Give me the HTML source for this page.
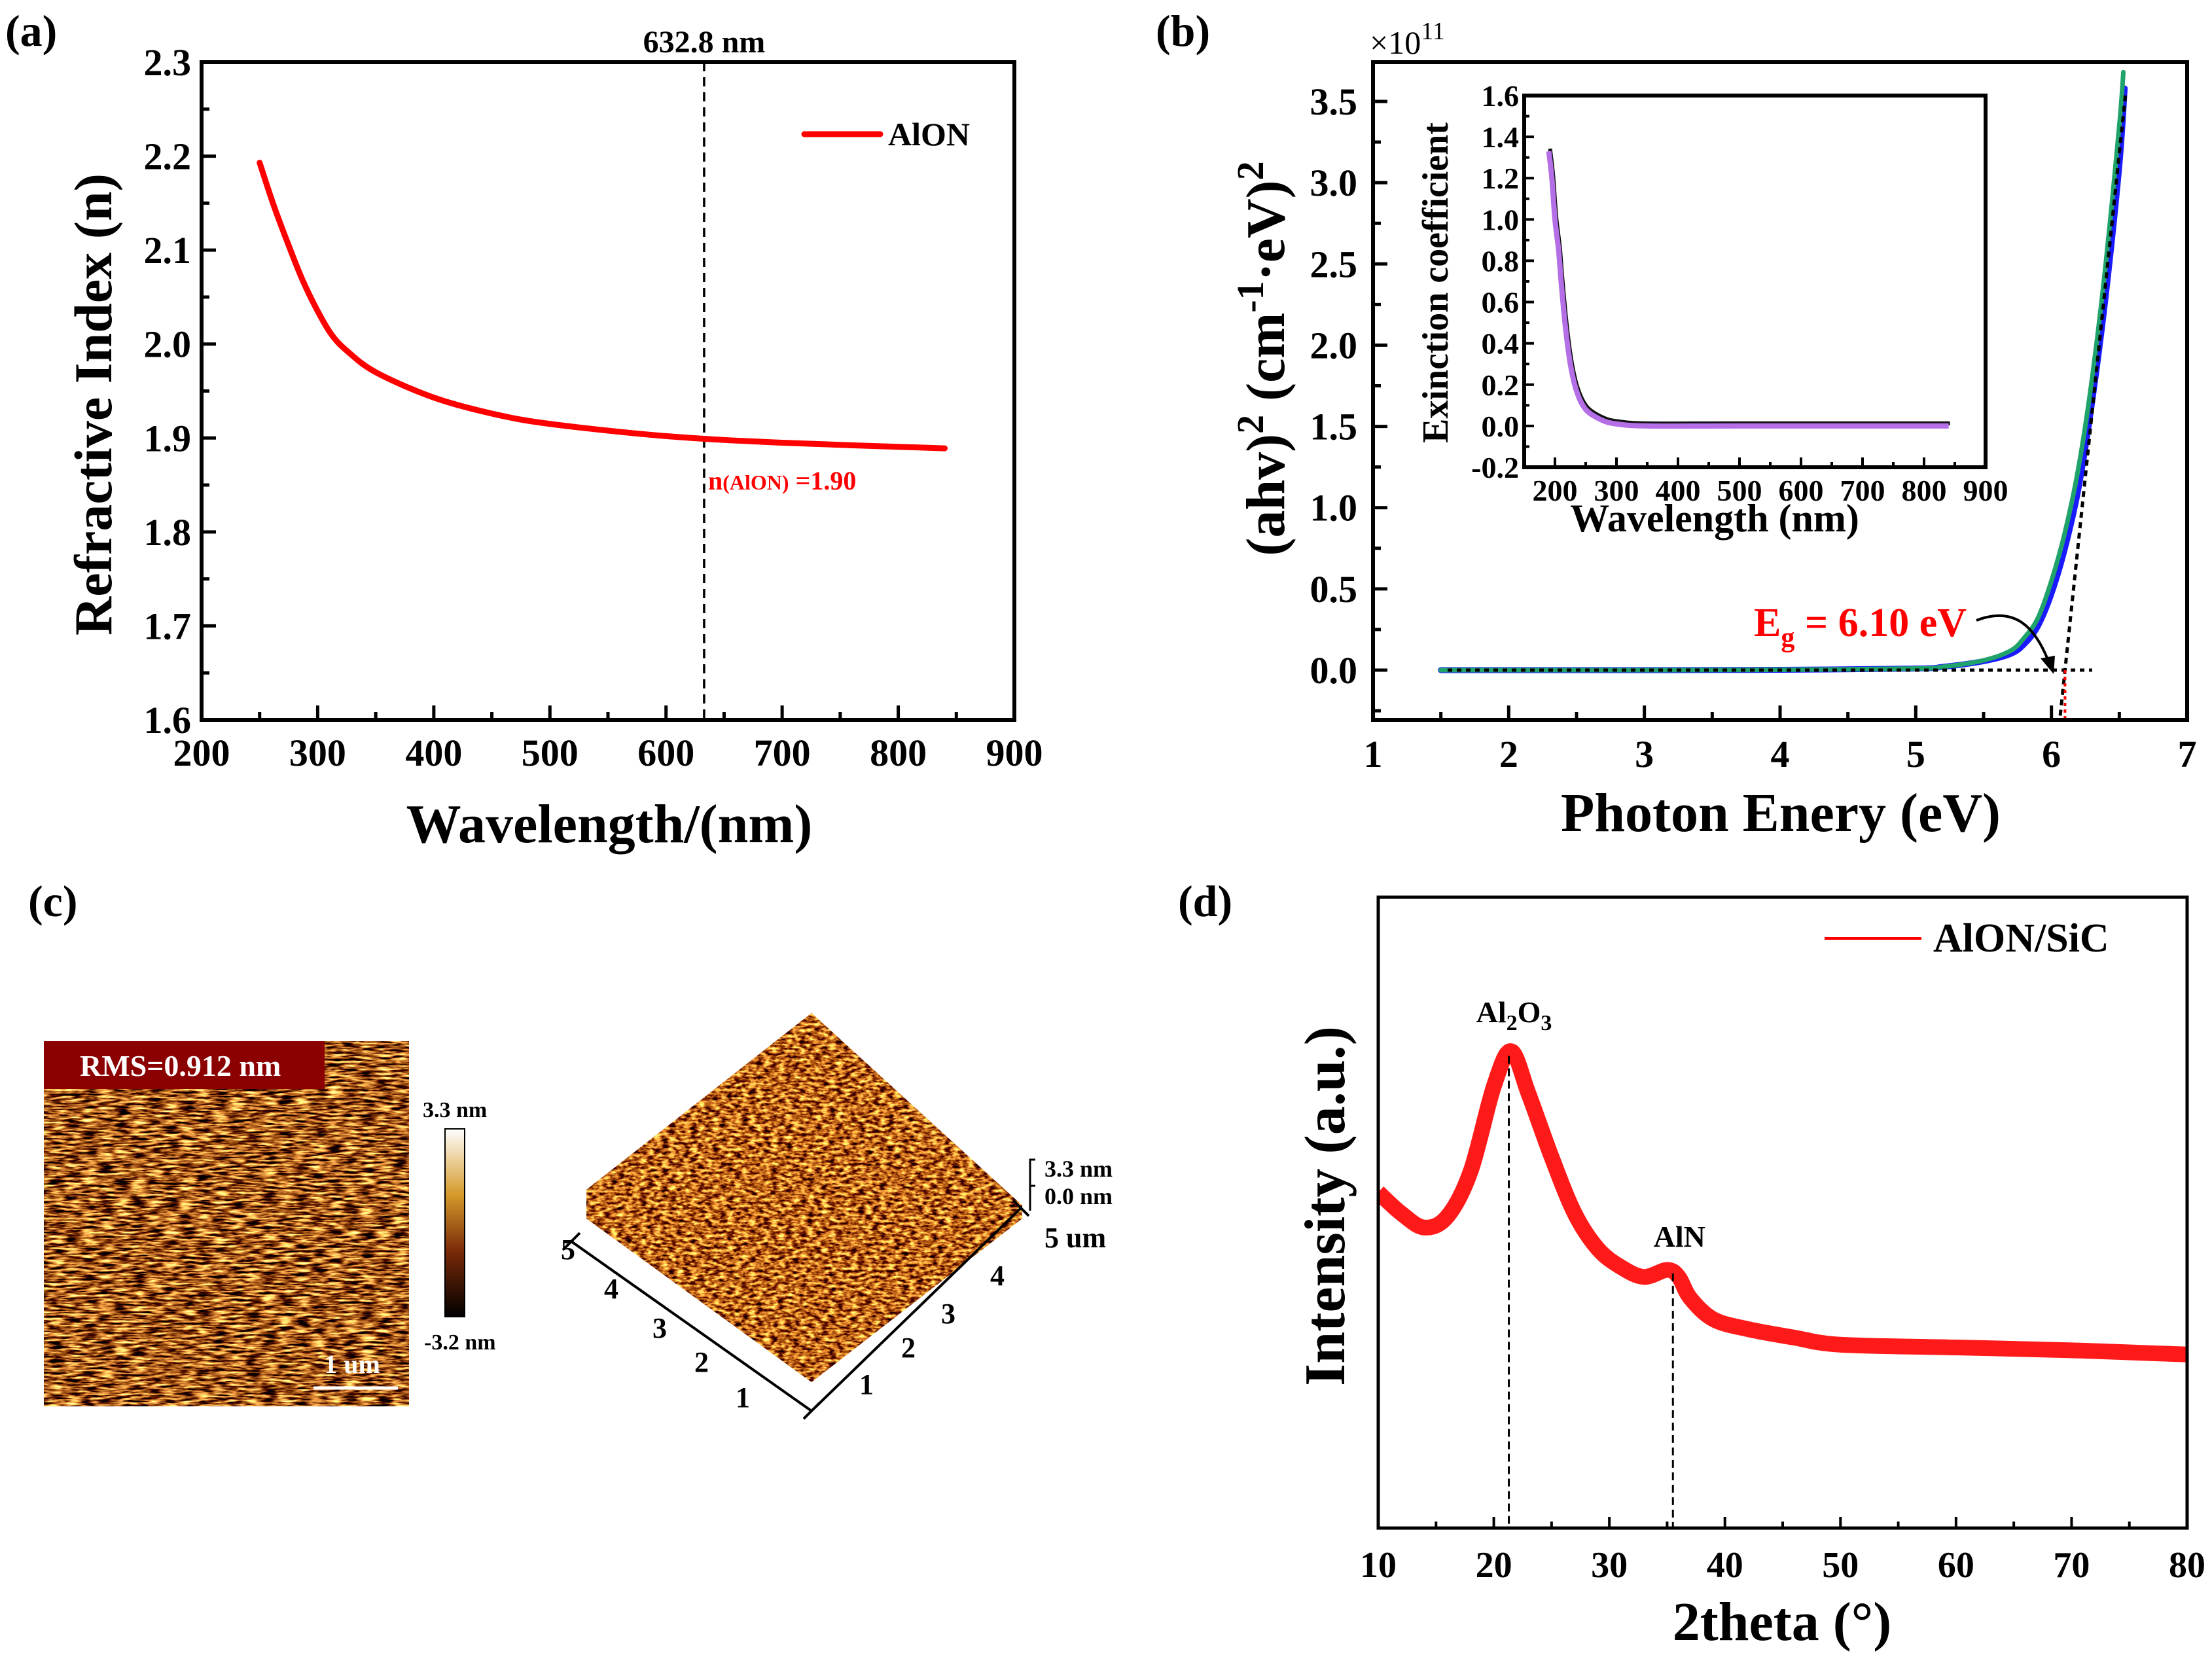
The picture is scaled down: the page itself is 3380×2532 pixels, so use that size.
<!DOCTYPE html>
<html><head><meta charset="utf-8">
<style>
html,body{margin:0;padding:0;background:#fff;}
svg{display:block;font-family:"Liberation Serif",serif;font-weight:bold;}
</style></head>
<body>
<svg id="fig" width="3380" height="2532" viewBox="0 0 3380 2532" xmlns="http://www.w3.org/2000/svg">
<defs>
  <filter id="afm2d" x="0" y="0" width="1" height="1" color-interpolation-filters="sRGB">
    <feTurbulence type="fractalNoise" baseFrequency="0.04 0.28" numOctaves="3" seed="4" result="n"/>
    <feColorMatrix in="n" type="matrix" values="0 0 0 3.0 -0.85  0 0 0 2.6 -0.95  0 0 0 1.6 -0.7  0 0 0 0 1"/>
  </filter>
  <filter id="afm3d" x="0" y="0" width="1" height="1" color-interpolation-filters="sRGB">
    <feTurbulence type="fractalNoise" baseFrequency="0.09 0.22" numOctaves="3" seed="9" result="n"/>
    <feColorMatrix in="n" type="matrix" values="0 0 0 2.4 -0.45  0 0 0 2.2 -0.7  0 0 0 1.2 -0.5  0 0 0 0 1"/>
  </filter>
  <linearGradient id="cbar" x1="0" y1="0" x2="0" y2="1">
    <stop offset="0" stop-color="#fff"/><stop offset="0.35" stop-color="#d49a2a"/>
    <stop offset="0.65" stop-color="#7a2a08"/><stop offset="1" stop-color="#000"/>
  </linearGradient>
  <clipPath id="clipA"><rect x="308" y="95" width="1242" height="1005"/></clipPath>
  <clipPath id="clipB"><rect x="2098" y="95" width="1244" height="1005"/></clipPath>
  <clipPath id="clipD"><rect x="2106" y="1371" width="1236" height="964"/></clipPath>
  <clipPath id="clip3d"><polygon points="1240,1548 1562,1842 1562,1862 1240,2112 896,1862 896,1818"/></clipPath>
</defs>
<g id="root"></g>
</svg>
<script>
// ---------- data ----------
const aWave = [250,262,275,287,300,312,325,350,400,450,500,600,700,840];
const aIndex = [2.193,2.148,2.105,2.068,2.035,2.01,1.993,1.97,1.943,1.926,1.915,1.902,1.895,1.889];
const aXTicks = [200,300,400,500,600,700,800,900];
const aYTicks = [1.6,1.7,1.8,1.9,2.0,2.1,2.2,2.3];

const bEnergyG = [1.5,3,4,5,5.2,5.5,5.7,5.8,5.9,6.0,6.1,6.2,6.3,6.4,6.5,6.53];
const bAlphaG  = [0,0,0.002,0.01,0.02,0.06,0.12,0.2,0.32,0.55,0.85,1.25,1.8,2.5,3.35,3.68];
const bEnergyB = [1.5,3,4,5,5.2,5.5,5.7,5.8,5.9,6.0,6.1,6.2,6.3,6.4,6.5,6.54];
const bAlphaB  = [0,0,0.002,0.01,0.02,0.055,0.1,0.16,0.27,0.47,0.75,1.12,1.65,2.3,3.1,3.58];
const bXTicks = [1,2,3,4,5,6,7];
const bYTicks = [0,0.5,1.0,1.5,2.0,2.5,3.0,3.5];
const bGap = [6.10];
const insWave = [190,195,200,206,210,217,225,235,250,275,300,350,500,840];
const insK    = [1.33,1.2,1.0,0.85,0.7,0.48,0.3,0.17,0.08,0.03,0.01,0.0,0.0,0.0];
const insXTicks = [200,300,400,500,600,700,800,900];
const insYTicks = [-0.2,0,0.2,0.4,0.6,0.8,1.0,1.2,1.4,1.6];

const dTheta = [10,12,14,16,18,20,21.5,23,25,27,29,31,33,35,36,37,39,42,46,50,60,70,80];
const dInt   = [238,223,213,221,253,313,338,308,263,223,198,185,178,183,178,163,148,141,135,130,128,126,123];
const dXTicks = [10,20,30,40,50,60,70,80];
const dPeaks = [21.3,35.5];

// ---------- helpers ----------
const NS="http://www.w3.org/2000/svg";
const root=document.getElementById('root');
function mk(tag,attrs,parent,txt){const e=document.createElementNS(NS,tag);for(const k in attrs)e.setAttribute(k,attrs[k]);if(txt!==undefined)e.textContent=txt;(parent||root).appendChild(e);return e;}
function lin(d0,d1,r0,r1){return v=>r0+(v-d0)/(d1-d0)*(r1-r0);}
function smoothPath(xs,ys,X,Y){
  const p=xs.map((x,i)=>[X(x),Y(ys[i])]);
  let d='M'+p[0][0]+','+p[0][1];
  for(let i=0;i<p.length-1;i++){
    const p0=p[i-1]||p[i],p1=p[i],p2=p[i+1],p3=p[i+2]||p2;
    const c1=[p1[0]+(p2[0]-p0[0])/6,p1[1]+(p2[1]-p0[1])/6];
    const c2=[p2[0]-(p3[0]-p1[0])/6,p2[1]-(p3[1]-p1[1])/6];
    d+=' C'+c1.join(',')+' '+c2.join(',')+' '+p2.join(',');
  }
  return d;
}
function fmt(v,dec){return v.toFixed(dec);}

// ---------- panel (a) ----------
{
const g=mk('g',{});


const X=lin(200,900,308,1550), Y=lin(1.6,2.3,1100,95);
let t=mk('text',{x:8,y:70,'font-size':68},g,'(a)');

for(let v=250;v<900;v+=100){const l=mk('line',{x1:X(v),x2:X(v),y1:1100,y2:1088,stroke:'#000','stroke-width':5},g);}
for(let v=1.65;v<2.3;v+=0.1){const l=mk('line',{x1:308,x2:320,y1:Y(v),y2:Y(v),stroke:'#000','stroke-width':5},g);}
aXTicks.forEach(v=>{
  const l=mk('line',{x1:X(v),x2:X(v),y1:1100,y2:1078,stroke:'#000','stroke-width':5},g);
  
  const tx=mk('text',{x:X(v),y:1170,'font-size':58,'text-anchor':'middle'},g,String(v));
  
});
aYTicks.forEach(v=>{
  const l=mk('line',{x1:308,x2:330,y1:Y(v),y2:Y(v),stroke:'#000','stroke-width':5},g);
  
  const tx=mk('text',{x:292,y:Y(v)+20,'font-size':58,'text-anchor':'end'},g,fmt(v,1));
  
});
const vl=mk('line',{x1:X(632.8),x2:X(632.8),y1:95,y2:1100,stroke:'#000','stroke-width':3.5,'stroke-dasharray':'14,9'},g);

t=mk('text',{x:X(632.8),y:80,'font-size':48,'text-anchor':'middle'},g,'632.8 nm');

const cu=mk('path',{d:smoothPath(aWave,aIndex,X,Y),fill:'none',stroke:'#ff0000','stroke-width':9,'stroke-linecap':'round','clip-path':'url(#clipA)'},g);

const fr=mk('rect',{x:308,y:95,width:1242,height:1005,fill:'none',stroke:'#000','stroke-width':6},g);

const lg=mk('line',{x1:1229,x2:1345,y1:205,y2:205,stroke:'#ff0000','stroke-width':9,'stroke-linecap':'round'},g);

t=mk('text',{x:1357,y:222,'font-size':50},g,'AlON');

t=mk('text',{x:1082,y:748,'font-size':40,fill:'#ff0000'},g);

t.innerHTML='n<tspan font-size="32">(AlON)</tspan> =1.90';
t=mk('text',{transform:'translate(170,618) rotate(-90)','font-size':82,'text-anchor':'middle'},g,'Refractive Index (n)');

t=mk('text',{x:931,y:1287,'font-size':84,'text-anchor':'middle'},g,'Wavelength/(nm)');

}

// ---------- panel (b) ----------
{
const g=mk('g',{});


const X=lin(1,7,2098,3342), Y=lin(0,3.5,1024,155);
let t=mk('text',{x:1766,y:70,'font-size':68},g,'(b)');

t=mk('text',{x:2093,y:82,'font-size':50,'font-weight':'normal'},g);

t.innerHTML='×10<tspan dy="-22" font-size="38">11</tspan>';
for(let v=1.5;v<7;v+=1){const l=mk('line',{x1:X(v),x2:X(v),y1:1100,y2:1088,stroke:'#000','stroke-width':5},g);}
for(let v=-0.25;v<3.7;v+=0.5){const l=mk('line',{x1:2098,x2:2110,y1:Y(v),y2:Y(v),stroke:'#000','stroke-width':5},g);}
bXTicks.forEach(v=>{
  const l=mk('line',{x1:X(v),x2:X(v),y1:1100,y2:1078,stroke:'#000','stroke-width':5},g);
  
  const tx=mk('text',{x:X(v),y:1172,'font-size':58,'text-anchor':'middle'},g,String(v));
  
});
bYTicks.forEach(v=>{
  const l=mk('line',{x1:2098,x2:2120,y1:Y(v),y2:Y(v),stroke:'#000','stroke-width':5},g);
  
  const tx=mk('text',{x:2074,y:Y(v)+20,'font-size':58,'text-anchor':'end'},g,fmt(v,1));
  
});
let c=mk('path',{d:smoothPath(bEnergyB,bAlphaB,X,Y),fill:'none',stroke:'#1a1aff','stroke-width':9,'stroke-linecap':'round','clip-path':'url(#clipB)'},g);

c=mk('path',{d:smoothPath(bEnergyG,bAlphaG,X,Y),fill:'none',stroke:'#1fa36a','stroke-width':7,'stroke-linecap':'round','clip-path':'url(#clipB)'},g);

const eg=bGap[0], slope=7.95;
c=mk('line',{x1:X(1.55),x2:X(6.3),y1:Y(0),y2:Y(0),stroke:'#000','stroke-width':5,'stroke-dasharray':'7,7'},g);

c=mk('line',{x1:X(eg-0.28/slope),y1:Y(-0.28),x2:X(eg+3.55/slope),y2:Y(3.55),stroke:'#000','stroke-width':5,'stroke-dasharray':'9,7'},g);

c=mk('line',{x1:X(eg),x2:X(eg),y1:Y(0),y2:1100,stroke:'#ff0000','stroke-width':4,'stroke-dasharray':'5,5'},g);

t=mk('text',{x:2680,y:972,'font-size':62,fill:'#ff0000'},g);

t.innerHTML='E<tspan dy="16" font-size="42">g</tspan><tspan dy="-16"> = 6.10 eV</tspan>';
c=mk('path',{d:'M3020,948 C3080,925 3110,960 3130,1010',fill:'none',stroke:'#000','stroke-width':4},g);

c=mk('polygon',{points:'3138,1030 3118,1006 3140,1002',fill:'#000'},g);

const fr=mk('rect',{x:2098,y:95,width:1244,height:1005,fill:'none',stroke:'#000','stroke-width':6},g);

t=mk('text',{transform:'translate(1962,548) rotate(-90)','font-size':84,'text-anchor':'middle'},g);

t.innerHTML='(ahv)<tspan dy="-32" font-size="58">2</tspan><tspan dy="32"> (cm</tspan><tspan dy="-32" font-size="58">-1</tspan><tspan dy="32">·eV)</tspan><tspan dy="-32" font-size="58">2</tspan>';
t=mk('text',{x:2721,y:1270,'font-size':84,'text-anchor':'middle'},g,'Photon Enery (eV)');


// inset
const ig=mk('g',{},g);

const IL=2329, IR=3034, IT=146, IB=714;
const IX=lin(150,900,IL,IR), IY=lin(-0.2,1.6,IB,IT);
for(let v=250;v<900;v+=100){const l=mk('line',{x1:IX(v),x2:IX(v),y1:IB,y2:IB-8,stroke:'#000','stroke-width':4},ig);}
for(let v=-0.1;v<1.6;v+=0.2){const l=mk('line',{x1:IL,x2:IL+8,y1:IY(v),y2:IY(v),stroke:'#000','stroke-width':4},ig);}
insXTicks.forEach(v=>{
  const l=mk('line',{x1:IX(v),x2:IX(v),y1:IB,y2:IB-15,stroke:'#000','stroke-width':4},ig);
  
  const tx=mk('text',{x:IX(v),y:IB+51,'font-size':46,'text-anchor':'middle'},ig,String(v));
  
});
insYTicks.forEach(v=>{
  const l=mk('line',{x1:IL,x2:IL+15,y1:IY(v),y2:IY(v),stroke:'#000','stroke-width':4},ig);
  
  const tx=mk('text',{x:IL-8,y:IY(v)+16,'font-size':46,'text-anchor':'end'},ig,fmt(v,1));
  
});
c=mk('path',{d:smoothPath(insWave,insK,IX,IY),fill:'none',stroke:'#111','stroke-width':6,transform:'translate(2,-4)'},ig);

c=mk('path',{d:smoothPath(insWave,insK,IX,IY),fill:'none',stroke:'#b46ee6','stroke-width':8},ig);

const ifr=mk('rect',{x:IL,y:IT,width:IR-IL,height:IB-IT,fill:'none',stroke:'#000','stroke-width':6},ig);

t=mk('text',{transform:'translate(2212,432) rotate(-90)','font-size':56,'text-anchor':'middle'},ig,'Exinction coefficient');

t=mk('text',{x:2620,y:812,'font-size':60,'text-anchor':'middle'},ig,'Wavelength (nm)');

}

// ---------- panel (c) ----------
{
const g=mk('g',{});


let t=mk('text',{x:43,y:1400,'font-size':68},g,'(c)');

let r=mk('rect',{x:67,y:1591,width:558,height:558,fill:'#8a3c0c'},g);

r=mk('rect',{x:67,y:1591,width:558,height:558,filter:'url(#afm2d)'},g);

r=mk('rect',{x:67,y:1591,width:429,height:73,fill:'#8b0000'},g);

t=mk('text',{x:122,y:1644,'font-size':46,fill:'#fff'},g,'RMS=0.912 nm');

r=mk('line',{x1:479,x2:608,y1:2121,y2:2121,stroke:'#fff','stroke-width':5},g);

t=mk('text',{x:538,y:2098,'font-size':40,fill:'#fff','text-anchor':'middle'},g,'1 um');

r=mk('rect',{x:680,y:1725,width:30,height:287,fill:'url(#cbar)',stroke:'#000','stroke-width':2},g);

t=mk('text',{x:646,y:1707,'font-size':34},g,'3.3 nm');

t=mk('text',{x:648,y:2062,'font-size':34},g,'-3.2 nm');

r=mk('rect',{x:890,y:1540,width:680,height:580,fill:'#a0541a','clip-path':'url(#clip3d)'},g);

r=mk('rect',{x:890,y:1540,width:680,height:580,filter:'url(#afm3d)','clip-path':'url(#clip3d)'},g);

r=mk('path',{d:'M873,1897 L1240,2156 L1560,1846 M860,1910 L886,1884 M1228,2168 L1252,2144 M1548,1834 L1572,1858',fill:'none',stroke:'#000','stroke-width':4},g);

r=mk('path',{d:'M1582,1772 L1574,1772 L1574,1850 M1574,1812 L1582,1812',fill:'none',stroke:'#000','stroke-width':3},g);

t=mk('text',{x:1596,y:1798,'font-size':36},g,'3.3 nm');

t=mk('text',{x:1596,y:1840,'font-size':36},g,'0.0 nm');

t=mk('text',{x:1596,y:1906,'font-size':44},g,'5 um');

[['5',868,1924],['4',934,1984],['3',1008,2044],['2',1072,2096],['1',1135,2150]].forEach(a=>{
  const tx=mk('text',{x:a[1],y:a[2],'font-size':44,'text-anchor':'middle'},g,a[0]);
  
});
[['1',1324,2130],['2',1388,2074],['3',1449,2022],['4',1524,1964]].forEach(a=>{
  const tx=mk('text',{x:a[1],y:a[2],'font-size':44,'text-anchor':'middle'},g,a[0]);
  
});
}

// ---------- panel (d) ----------
{
const g=mk('g',{});


const X=lin(10,80,2106,3342), Y=v=>2335-v*2.156;
let t=mk('text',{x:1800,y:1400,'font-size':68},g,'(d)');

for(let v=15;v<80;v+=10){const l=mk('line',{x1:X(v),x2:X(v),y1:2335,y2:2325,stroke:'#000','stroke-width':4},g);}
dXTicks.forEach(v=>{
  const l=mk('line',{x1:X(v),x2:X(v),y1:2335,y2:2318,stroke:'#000','stroke-width':4},g);
  
  const tx=mk('text',{x:X(v),y:2410,'font-size':56,'text-anchor':'middle'},g,String(v));
  
});
const d=smoothPath(dTheta,dInt,X,Y);
let c=mk('path',{d:d,fill:'none',stroke:'#ff1a1a','stroke-width':24,'stroke-linejoin':'round','clip-path':'url(#clipD)'},g);

dPeaks.forEach((p,i)=>{
  let k=0;while(k<dTheta.length-2&&dTheta[k+1]<p)k++;
  const f=(p-dTheta[k])/(dTheta[k+1]-dTheta[k]);
  const yv=dInt[k]+f*(dInt[k+1]-dInt[k]);
  const l=mk('line',{x1:X(p),x2:X(p),y1:Y(yv),y2:2335,stroke:'#000','stroke-width':3,'stroke-dasharray':'12,7'},g);
  
});
t=mk('text',{x:X(dPeaks[0])+8,y:1562,'font-size':46,'text-anchor':'middle'},g);

t.innerHTML='Al<tspan dy="12" font-size="34">2</tspan><tspan dy="-12">O</tspan><tspan dy="12" font-size="34">3</tspan>';
t=mk('text',{x:X(dPeaks[1])+10,y:1905,'font-size':46,'text-anchor':'middle'},g,'AlN');

const fr=mk('rect',{x:2106,y:1371,width:1236,height:964,fill:'none',stroke:'#000','stroke-width':5},g);

const lg=mk('line',{x1:2788,x2:2936,y1:1434,y2:1434,stroke:'#ff0000','stroke-width':4},g);

t=mk('text',{x:2954,y:1454,'font-size':62},g,'AlON/SiC');

t=mk('text',{transform:'translate(2054,1843) rotate(-90)','font-size':88,'text-anchor':'middle'},g,'Intensity (a.u.)');

t=mk('text',{x:2723,y:2506,'font-size':84,'text-anchor':'middle'},g,'2theta (°)');

}
</script>
</body></html>
